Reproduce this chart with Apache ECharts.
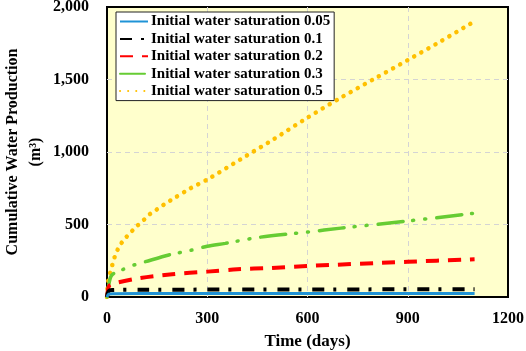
<!DOCTYPE html>
<html>
<head>
<meta charset="utf-8">
<script src="https://cdn.jsdelivr.net/npm/echarts@6/dist/echarts.min.js"></script>
<style>
	html, body { margin: 0; padding: 0; background: #fff; }
	#chart { width: 526px; height: 351px; }
</style>
</head>
<body>
<div id="chart"></div>
<script>
	var FONT = "'Liberation Serif', 'Times New Roman', serif";

	// tick labels
	var xTicks = [0, 300, 600, 900, 1200];
	var yTicks = [0, 500, 1000, 1500, 2000];

	// series names
	var seriesNames = [
		'Initial water saturation 0.05',
		'Initial water saturation 0.1',
		'Initial water saturation 0.2',
		'Initial water saturation 0.3',
		'Initial water saturation 0.5'
	];

	// time (days) / cumulative water production (m3)
	var tSw005 = [0, 5, 20, 100, 300, 600, 900, 1100];
	var vSw005 = [0, 20, 23, 24, 24, 25, 25, 25];

	var tSw01 = [0, 5, 15, 100, 300, 600, 900, 1100];
	var vSw01 = [0, 40, 48, 50, 51, 52, 53, 54];

	var tSw02 = [0, 5, 10, 29, 95, 195, 300, 390, 490, 600, 900, 1100];
	var vSw02 = [0, 70, 85, 99, 129, 157, 175, 191, 200, 214, 243, 260];

	var tSw03 = [0, 5, 14, 44, 80, 114, 185, 251, 300, 354, 450, 600, 700, 900, 1100];
	var vSw03 = [0, 80, 150, 186, 220, 243, 290, 322, 350, 370, 410, 448, 475, 524, 578];

	var tSw05 = [0, 3, 10, 17, 25, 36, 50, 70, 90, 110, 130, 150, 175, 200, 250, 300, 400, 500, 600, 700, 800, 900, 1000, 1090];
	var vSw05 = [0, 100, 170, 230, 290, 345, 393, 443, 490, 531, 575, 605, 645, 680, 750, 810, 950, 1090, 1237, 1375, 1505, 1634, 1765, 1888];

	function pairs(t, v){
		var out = [];
		for(var i = 0; i < t.length; i++)
			out.push([t[i], v[i]]);
		return out;
	}

	var styles = [
		{ color: '#1f93d6', width: 3, type: 'solid', cap: 'butt' },
		{ color: '#000000', width: 4, type: [12, 9, 3, 11], cap: 'butt' },
		{ color: '#ff0000', width: 4, type: [13, 9], cap: 'butt' },
		{ color: '#66cc33', width: 3.5, type: [25, 10, 1, 11, 1, 11], cap: 'round' },
		{ color: '#ffc000', width: 4.5, type: [0.1, 8], cap: 'round' }
	];
	var dataSets = [
		pairs(tSw005, vSw005),
		pairs(tSw01, vSw01),
		pairs(tSw02, vSw02),
		pairs(tSw03, vSw03),
		pairs(tSw05, vSw05)
	];

	var series = [];
	for(var i = 0; i < seriesNames.length; i++){
		series.push({
			name: seriesNames[i],
			type: 'line',
			data: dataSets[i],
			symbol: 'none',
			smooth: 0.3,
			color: styles[i].color,
			lineStyle: {
				color: styles[i].color,
				width: styles[i].width,
				type: styles[i].type,
				cap: styles[i].cap
			},
			z: 10 - i
		});
	}

	var gridLine = { show: true, showMinLine: false, showMaxLine: false, lineStyle: { color: '#d4d4d4', type: [5, 4], width: 1 } };

	var chart = echarts.init(document.getElementById('chart'), null, { renderer: 'canvas' });
	chart.setOption({
		animation: false,
		grid: {
			left: 107,
			right: 18,
			top: 7,
			bottom: 54,
			outerBoundsMode: 'none',
			containLabel: false,
			show: true,
			backgroundColor: '#ffffcc',
			borderColor: '#000',
			borderWidth: 2,
			z: 0
		},
		legend: {
			left: 116,
			top: 12,
			orient: 'vertical',
			backgroundColor: '#fff',
			borderColor: '#222',
			borderWidth: 1,
			padding: [2, 4, 2, 3],
			itemWidth: 28,
			itemHeight: 15,
			itemGap: 2.4,
			itemStyle: { opacity: 0 },
			textStyle: {
				fontFamily: FONT,
				fontWeight: 'bold',
				fontSize: 15,
				color: '#000',
				padding: [0, 0, 0, -2]
			},
			data: seriesNames
		},
		xAxis: {
			type: 'value',
			min: xTicks[0],
			max: xTicks[xTicks.length - 1],
			interval: 300,
			name: 'Time (days)',
			nameLocation: 'middle',
			nameGap: 36,
			nameMoveOverlap: false,
			nameTextStyle: { fontFamily: FONT, fontWeight: 'bold', fontSize: 17, color: '#000' },
			axisLine: { show: false },
			axisTick: { show: false },
			axisLabel: {
				margin: 14,
				fontFamily: FONT,
				fontWeight: 'bold',
				fontSize: 16,
				color: '#000',
				formatter: function(value){
					return String(value);
				}
			},
			splitLine: gridLine
		},
		yAxis: {
			type: 'value',
			min: yTicks[0],
			max: yTicks[yTicks.length - 1],
			interval: 500,
			name: 'Cumulative Water Production\n(m³)',
			nameLocation: 'middle',
			nameRotate: 90,
			nameGap: 60,
			nameMoveOverlap: false,
			nameTextStyle: { fontFamily: FONT, fontWeight: 'bold', fontSize: 16, color: '#000', lineHeight: 23 },
			axisLine: { show: false },
			axisTick: { show: false },
			axisLabel: {
				margin: 18,
				fontFamily: FONT,
				fontWeight: 'bold',
				fontSize: 16,
				color: '#000',
				formatter: function(value){
					return value.toLocaleString('en-US');
				}
			},
			splitLine: gridLine
		},
		series: series
	});
</script>
</body>
</html>
